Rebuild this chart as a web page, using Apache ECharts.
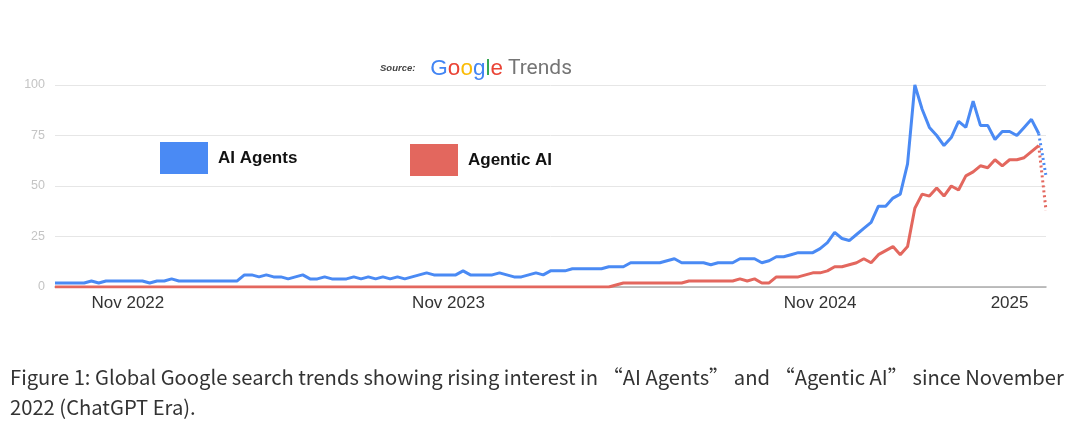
<!DOCTYPE html>
<html>
<head>
<meta charset="utf-8">
<script src="https://cdn.jsdelivr.net/npm/echarts@6/dist/echarts.min.js"></script>
<style>
html,body{margin:0;padding:0;background:#fff;}
#c{width:1080px;height:427px;}
</style>
</head>
<body>
<div id="c"></div>
<script>
// Weekly Google Trends index values (index 0 .. 136); last point is partial (dotted)
const aiAgents = [
  2,2,2,2,2,3,2,3,3,3,3,3,3,2,3,3,4,3,3,3,
  3,3,3,3,3,3,6,6,5,6,5,5,4,5,6,4,4,5,4,4,
  4,5,4,5,4,5,4,5,4,5,6,7,6,6,6,6,8,6,6,6,
  6,7,6,5,5,6,7,6,8,8,8,9,9,9,9,9,10,10,10,12,
  12,12,12,12,13,14,12,12,12,12,11,12,12,12,14,14,14,12,13,15,
  15,16,17,17,17,19,22,27,24,23,26,29,32,40,40,44,46,61,100,88,
  79,75,70,74,82,79,92,80,80,73,77,77,75,79,83,76,55
];
const agenticAI = [
  0,0,0,0,0,0,0,0,0,0,0,0,0,0,0,0,0,0,0,0,
  0,0,0,0,0,0,0,0,0,0,0,0,0,0,0,0,0,0,0,0,
  0,0,0,0,0,0,0,0,0,0,0,0,0,0,0,0,0,0,0,0,
  0,0,0,0,0,0,0,0,0,0,0,0,0,0,0,0,0,1,2,2,
  2,2,2,2,2,2,2,3,3,3,3,3,3,3,4,3,4,2,2,5,
  5,5,5,6,7,7,8,10,10,11,12,14,12,16,18,20,16,20,39,46,
  45,49,45,50,48,55,57,60,59,63,60,63,63,64,67,70,38
];
// Tick labels keyed by week index
const tickLabels = {10: 'Nov 2022', 54: 'Nov 2023', 105: 'Nov 2024', 131: '2025'};
const yTicks = [0, 25, 50, 75, 100];
const seriesNames = ['AI Agents', 'Agentic AI'];
const captionText = 'Figure 1: Global Google search trends showing rising interest in “AI Agents” and “Agentic AI” since November\n2022 (ChatGPT Era).';

const weeks = aiAgents.map((_, i) => String(i));
const last = aiAgents.length - 1;
function solidPart(arr){ return arr.map((v,i)=> i < last ? v : null); }
function dottedPart(arr){ return arr.map((v,i)=> i >= last-1 ? v : null); }

const BLUE = '#4a8af4';
const RED = '#e3675e';

const chart = echarts.init(document.getElementById('c'), null, {renderer:'canvas'});
const gFont = {fontFamily: 'Liberation Sans', fontSize: 22.5, fontWeight: 'normal'};
chart.setOption({
  animation: false,
  backgroundColor: '#fff',
  title: [{
    left: 380, top: 57, padding: 0,
    text: '{s|Source:}   {b|G}{r|o}{y|o}{b|g}{g|l}{r|e} {t|Trends}',
    textStyle: {
      rich: {
        s: {fontFamily: 'Liberation Sans', fontSize: 9.5, fontWeight: 'bold', fontStyle: 'italic', color: '#444'},
        b: Object.assign({color: '#4285F4'}, gFont),
        r: Object.assign({color: '#EA4335'}, gFont),
        y: Object.assign({color: '#FBBC05'}, gFont),
        g: Object.assign({color: '#34A853'}, gFont),
        t: {fontFamily: 'Roboto', fontSize: 21, fontWeight: 'normal', color: '#757575'}
      }
    }
  }, {
    left: 10, top: 362, padding: 0,
    text: captionText,
    textStyle: {fontFamily: 'Noto Sans CJK SC', fontSize: 20.2, fontWeight: 'normal', color: '#333', lineHeight: 30}
  }],
  legend: [{
    data: [seriesNames[0]],
    left: 160, top: 142, padding: 0,
    itemWidth: 48, itemHeight: 32, icon: 'rect',
    textStyle: {fontFamily: 'Liberation Sans', fontSize: 17, fontWeight: 'bold', color: '#111', padding: [0,0,0,5]},
    selectedMode: false
  }, {
    data: [seriesNames[1]],
    left: 410, top: 144, padding: 0,
    itemWidth: 48, itemHeight: 32, icon: 'rect',
    textStyle: {fontFamily: 'Liberation Sans', fontSize: 17, fontWeight: 'bold', color: '#111', padding: [0,0,0,5]},
    selectedMode: false
  }],
  grid: {left: 55, right: 34, top: 85, bottom: 140, containLabel: false},
  xAxis: {
    type: 'category',
    data: weeks,
    boundaryGap: false,
    axisLine: {show: true, lineStyle: {color: '#aaa', width: 1.5}},
    axisTick: {show: false},
    splitLine: {show: false},
    axisLabel: {
      interval: (idx) => tickLabels[idx] !== undefined,
      formatter: (v, idx) => tickLabels[idx] || '',
      fontFamily: 'Liberation Sans', fontSize: 17, color: '#333', margin: 8
    }
  },
  yAxis: {
    type: 'value',
    min: yTicks[0], max: yTicks[yTicks.length-1], interval: 25,
    axisLine: {show: false},
    axisTick: {show: false},
    splitLine: {lineStyle: {color: '#e6e6e6', width: 1}},
    axisLabel: {fontFamily: 'Liberation Sans', fontSize: 12.5, color: '#c4c4c4', margin: 10}
  },
  series: [{
    name: seriesNames[0], type: 'line', data: solidPart(aiAgents),
    color: BLUE, showSymbol: false, lineStyle: {width: 3, color: BLUE}, z: 3
  }, {
    name: seriesNames[1], type: 'line', data: solidPart(agenticAI),
    color: RED, showSymbol: false, lineStyle: {width: 3, color: RED}, z: 2
  }, {
    name: seriesNames[0] + ' (partial)', type: 'line', data: dottedPart(aiAgents),
    color: BLUE, showSymbol: false, lineStyle: {width: 3, color: BLUE, type: [2, 3]}, z: 3
  }, {
    name: seriesNames[1] + ' (partial)', type: 'line', data: dottedPart(agenticAI),
    color: RED, showSymbol: false, lineStyle: {width: 3, color: RED, type: [2, 3]}, z: 2
  }]
});
</script>
</body>
</html>
